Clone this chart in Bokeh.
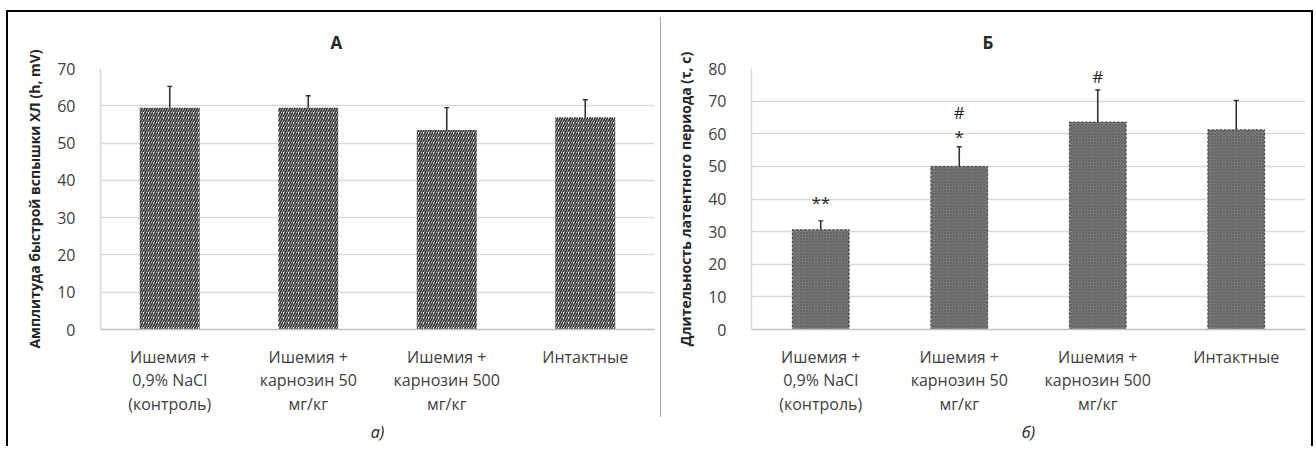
from bokeh.plotting import figure
from bokeh.models import ColumnDataSource, Whisker, TeeHead, Spacer, FixedTicker, Title
from bokeh.layouts import row, column
from bokeh.embed import file_html
from bokeh.resources import INLINE
from bokeh.core.properties import value

# ---- data ----
group_labels = [
    "Ишемия +\n0,9% NaCl\n(контроль)",
    "Ишемия +\nкарнозин 50\nмг/кг",
    "Ишемия +\nкарнозин 500\nмг/кг",
    "Интактные",
]
amp_mean = [59.5, 59.5, 53.5, 56.9]
amp_err = [5.7, 3.2, 6.0, 4.7]
lat_mean = [30.6, 50.0, 63.6, 61.2]
lat_err = [2.7, 6.0, 9.8, 9.0]
marks_text = ["**", "*", "#", "#"]
marks_group_idx = [0, 1, 1, 2]
marks_y = [38.8, 59.1, 66.5, 77.4]

amp_ticks = [0, 10, 20, 30, 40, 50, 60, 70]
lat_ticks = [0, 10, 20, 30, 40, 50, 60, 70, 80]

FONT = "Open Sans"
TXT = "#404040"


def make_panel(mean, err, ymax, ticks, ylabel, title, caption, width, mb_left,
               bar_width, bar_style, title_offset):
    src = ColumnDataSource(dict(
        x=group_labels, top=mean,
        upper=[m + e for m, e in zip(mean, err)],
        lower=[m - e for m, e in zip(mean, err)],
    ))
    p = figure(x_range=group_labels, y_range=(0, ymax), width=width, height=434,
               output_backend="svg", toolbar_location=None,
               min_border_left=mb_left, min_border_right=6,
               min_border_top=56, min_border_bottom=116)
    p.title = Title(text=title, align="left", offset=title_offset,
                    text_font=FONT, text_font_size="17px", text_font_style="bold",
                    text_color="#262626", standoff=30)
    p.outline_line_color = None
    p.background_fill_color = "white"
    p.border_fill_color = "white"
    p.vbar(x="x", top="top", width=bar_width, source=src, **bar_style)
    w = Whisker(base="x", upper="upper", lower="lower", source=src,
                line_color="#333333", line_width=1.6,
                upper_head=TeeHead(size=5, line_color="#333333", line_width=1.4),
                lower_head=TeeHead(size=5, line_color="#333333", line_width=1.4))
    p.add_layout(w)

    p.yaxis.ticker = FixedTicker(ticks=ticks)
    p.ygrid.ticker = FixedTicker(ticks=ticks)
    p.xgrid.grid_line_color = None
    p.ygrid.grid_line_color = "#d9d9d9"
    p.ygrid.grid_line_width = 1.5

    p.yaxis.axis_line_color = "#d9d9d9"
    p.yaxis.axis_line_width = 1.5
    p.yaxis.major_tick_line_color = None
    p.yaxis.minor_tick_line_color = None
    p.yaxis.major_label_standoff = 19
    p.yaxis.major_label_text_font = FONT
    p.yaxis.major_label_text_font_size = "16px"
    p.yaxis.major_label_text_color = TXT
    p.yaxis.axis_label = ylabel
    p.yaxis.axis_label_text_font = FONT
    p.yaxis.axis_label_text_font_size = "14px"
    p.yaxis.axis_label_text_font_style = "bold"
    p.yaxis.axis_label_text_color = "#262626"
    p.yaxis.axis_label_standoff = 10

    p.xaxis.axis_line_color = "#bfbfbf"
    p.xaxis.axis_line_width = 1.5
    p.xaxis.major_tick_line_color = None
    p.xaxis.minor_tick_line_color = None
    p.xaxis.major_label_text_font = FONT
    p.xaxis.major_label_text_font_size = "16px"
    p.xaxis.major_label_text_color = TXT
    p.xaxis.major_label_text_line_height = 1.08
    p.xaxis.major_label_standoff = 10
    p.xaxis.axis_label = caption
    p.xaxis.axis_label_text_font = FONT
    p.xaxis.axis_label_text_font_size = "16px"
    p.xaxis.axis_label_text_font_style = "italic"
    p.xaxis.axis_label_text_color = "#222222"
    p.xaxis.axis_label_standoff = 3
    return p


left_style = dict(fill_color="#ffffff", line_color=None,
                  hatch_pattern="/", hatch_color="#3a3a3a",
                  hatch_scale=5, hatch_weight=1.8)
right_style = dict(fill_color="#7c7c7c", line_color="#3c3c3c", line_width=1,
                   line_dash="2 2", hatch_pattern="x", hatch_color="#555555",
                   hatch_scale=3, hatch_weight=0.6)

p1 = make_panel(amp_mean, amp_err, 70, amp_ticks,
                "Амплитуда быстрой вспышки ХЛ (h, mV)", "А", "а)",
                652, 92, 0.433, left_style, 230)
p2 = make_panel(lat_mean, lat_err, 80, lat_ticks,
                "Длительность латентного периода (τ, с)", "Б", "б)",
                650, 90, 0.41, right_style, 231)

msrc = ColumnDataSource(dict(x=[group_labels[i] for i in marks_group_idx],
                             y=marks_y, t=marks_text))
p2.text(x="x", y="y", text="t", source=msrc, text_font=value(FONT),
        text_font_size="17px", text_color="#262626", text_align="center",
        text_baseline="middle")

divider = column(Spacer(height=5, width=1),
                 Spacer(width=1, height=400, styles={"background-color": "#a6a6a6"}))

layout = row(p1, divider, p2, styles={
    "border-top": "2px solid black",
    "border-left": "2px solid black",
    "border-right": "2px solid black",
    "margin-left": "6px",
    "margin-top": "10px",
})

open("out.html", "w").write(file_html(layout, INLINE))
